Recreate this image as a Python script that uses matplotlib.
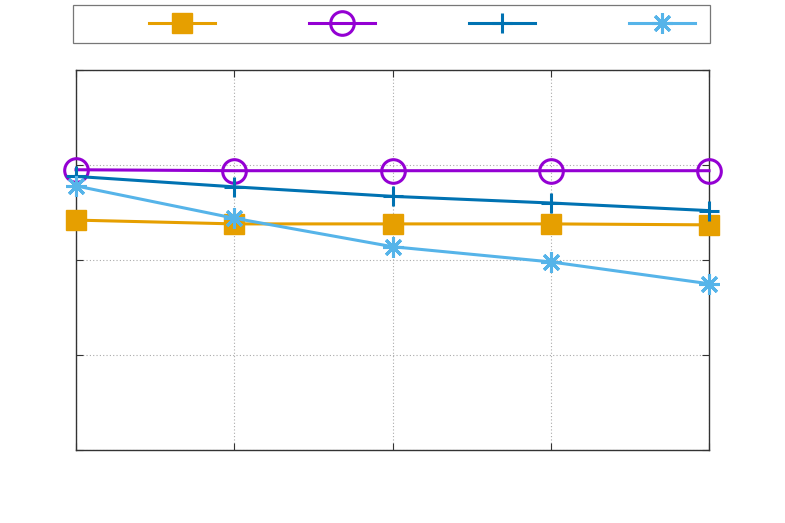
import numpy as np
import matplotlib
matplotlib.use("Agg")
import matplotlib.pyplot as plt

# -----------------------------
# data
# -----------------------------
x = [0, 1, 2, 3, 4]
s_square = [2.42, 2.38, 2.38, 2.38, 2.37]
s_circle = [2.95, 2.94, 2.94, 2.94, 2.94]
s_plus = [2.88, 2.77, 2.67, 2.60, 2.52]
s_star = [2.78, 2.44, 2.14, 1.98, 1.75]
labels = ["", "", "", ""]

colors = ["#E69F00", "#9400D3", "#0072B2", "#56B4E9"]

fig = plt.figure(figsize=(7.85, 5.23), dpi=100)
ax = fig.add_axes([76/785, 1 - 450/523, 633/785, 380/523])

lw = 2.2
h1, = ax.plot(x, s_square, color=colors[0], lw=lw, marker="s", ms=14,
              mec=colors[0], clip_on=False, zorder=3)
h2, = ax.plot(x, s_circle, color=colors[1], lw=lw, marker="o", ms=17,
              mfc="none", mec=colors[1], mew=2.2, clip_on=False, zorder=3)
h3, = ax.plot(x, s_plus, color=colors[2], lw=lw, marker="+", ms=15,
              mew=2.2, clip_on=False, zorder=3)
h4, = ax.plot(x, s_star, color=colors[3], lw=lw, marker=(8, 2, 0), ms=15,
              mew=2.2, clip_on=False, zorder=3)

ax.set_xlim(0, 4)
ax.set_ylim(0, 4)
ax.set_xticks([0, 1, 2, 3, 4])
ax.set_yticks([0, 1, 2, 3, 4])
ax.set_xticklabels([])
ax.set_yticklabels([])
ax.tick_params(direction="in", length=5, width=0.8, color="#333333",
               top=True, right=True)
ax.grid(True, linestyle=(0, (1, 2)), color="#aaaaaa", lw=0.8)
for sp in ax.spines.values():
    sp.set_color("#333333")
    sp.set_linewidth(1.0)

# legend: empty labels, handles on the right of each entry
fs = 5.0
fpx = fs * 100 / 72
leg = fig.legend([h1, h2, h3, h4], labels, ncol=4, fontsize=fs,
                 loc="upper left", bbox_to_anchor=(73/785, 1 - 5/523),
                 markerfirst=False, numpoints=1,
                 handlelength=66/fpx, handleheight=1.3,
                 handletextpad=61/fpx, columnspacing=33/fpx,
                 borderpad=15/fpx, borderaxespad=0,
                 frameon=True, fancybox=False, edgecolor="#555555")
leg.get_frame().set_linewidth(0.9)

fig.savefig("out.png", dpi=100)
